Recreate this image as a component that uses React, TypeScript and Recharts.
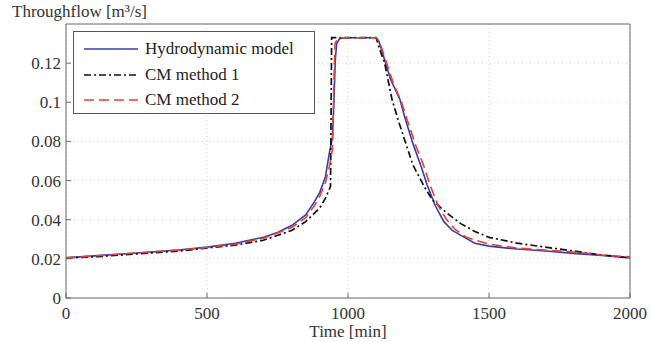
import { LineChart, Line, XAxis, YAxis, CartesianGrid } from 'recharts';

// Hydrodynamic model (blue, solid)
const hydroTime = [0, 100, 200, 300, 400, 500, 600, 700, 750, 800, 850, 880, 900, 920, 935, 945, 950, 955, 960, 970, 990, 1100, 1110, 1125, 1150, 1184, 1200, 1230, 1262, 1280, 1310, 1340, 1370, 1400, 1450, 1500, 1600, 1700, 1800, 1900, 2000];
const hydroFlow = [0.0205, 0.0215, 0.0225, 0.0235, 0.0245, 0.026, 0.028, 0.031, 0.0335, 0.037, 0.0425, 0.049, 0.054, 0.062, 0.075, 0.082, 0.1, 0.122, 0.13, 0.1325, 0.133, 0.133, 0.131, 0.124, 0.112, 0.1015, 0.093, 0.079, 0.066, 0.058, 0.047, 0.039, 0.0345, 0.032, 0.028, 0.0265, 0.025, 0.024, 0.0228, 0.0217, 0.0205];

// CM method 1 (black, dash-dot)
const cm1Time = [0, 100, 200, 300, 400, 500, 600, 700, 800, 850, 900, 920, 938, 942, 1100, 1110, 1130, 1156, 1180, 1230, 1270, 1300, 1350, 1400, 1450, 1500, 1600, 1700, 1800, 1900, 2000];
const cm1Flow = [0.0205, 0.021, 0.022, 0.023, 0.024, 0.0255, 0.027, 0.0295, 0.0345, 0.039, 0.046, 0.051, 0.057, 0.133, 0.133, 0.128, 0.12, 0.1015, 0.09, 0.068, 0.057, 0.05, 0.0435, 0.038, 0.034, 0.031, 0.028, 0.026, 0.024, 0.022, 0.0205];

// CM method 2 (red, dashed)
const cm2Time = [0, 100, 200, 300, 400, 500, 600, 700, 800, 850, 880, 900, 920, 935, 945, 950, 954, 965, 1100, 1112, 1130, 1160, 1190, 1210, 1240, 1270, 1290, 1320, 1350, 1380, 1420, 1500, 1600, 1700, 1800, 1900, 2000];
const cm2Flow = [0.0205, 0.0215, 0.0225, 0.0235, 0.0245, 0.0258, 0.0275, 0.0305, 0.036, 0.041, 0.047, 0.052, 0.059, 0.068, 0.076, 0.11, 0.13, 0.133, 0.133, 0.131, 0.123, 0.11, 0.1, 0.091, 0.078, 0.067, 0.058, 0.047, 0.04, 0.035, 0.031, 0.0275, 0.0255, 0.0245, 0.0235, 0.022, 0.021];

const timeTicks = [0, 500, 1000, 1500, 2000];
const flowTicks = [0, 0.02, 0.04, 0.06, 0.08, 0.1, 0.12];

const legendItems = [
  { name: 'Hydrodynamic model', color: '#3b3ba6', dash: undefined },
  { name: 'CM method 1', color: '#111111', dash: '7 3 2 3' },
  { name: 'CM method 2', color: '#e5403a', dash: '10 5' },
];

const toRows = (t: number[], v: number[]) => t.map((time, i) => ({ time, flow: v[i] }));

const font = '"Liberation Serif", "Times New Roman", serif';
const axisColor = '#6b6b6b';

// serif tick labels, drawn where recharts puts them
const serifTick = (dy: string) => (props: any) => (
  <text
    x={props.x}
    y={props.y}
    dy={dy}
    textAnchor={props.textAnchor}
    fontFamily={font}
    fontSize={17}
    fill="#333"
  >
    {String(props.payload.value)}
  </text>
);

function ChartLegend() {
  return (
    <div
      style={{
        position: 'absolute',
        left: 73,
        top: 31,
        width: 240,
        height: 81,
        border: '1px solid #555',
        background: '#fff',
        fontSize: 17,
        color: '#222',
      }}
    >
      {legendItems.map((item, i) => (
        <div
          key={item.name}
          style={{ position: 'absolute', left: 10, top: 5 + i * 25.5, height: 24, display: 'flex', alignItems: 'center' }}
        >
          <svg width={54} height={10} style={{ marginRight: 7 }}>
            <line x1={0} y1={5} x2={54} y2={5} stroke={item.color} strokeWidth={1.6} strokeDasharray={item.dash} />
          </svg>
          <span>{item.name}</span>
        </div>
      ))}
    </div>
  );
}

export default function App() {
  return (
    <div style={{ position: 'absolute', left: 0, top: 0, width: 651, height: 342, background: '#fff', fontFamily: font }}>
      <div style={{ position: 'absolute', left: 12, top: 2, fontSize: 17, color: '#333', lineHeight: '20px' }}>
        Throughflow [m³/s]
      </div>
      <LineChart width={651} height={342} margin={{ top: 23, right: 20, bottom: 43, left: 65 }}>
        <CartesianGrid stroke="#cfcfcf" strokeDasharray="1 3" />
        <XAxis
          dataKey="time"
          type="number"
          domain={[0, 2000]}
          ticks={timeTicks}
          height={1}
          stroke={axisColor}
          tickSize={-5}
          tickMargin={14}
          tick={serifTick('0.71em')}
          allowDuplicatedCategory={false}
        />
        <XAxis
          xAxisId="top"
          orientation="top"
          dataKey="time"
          type="number"
          domain={[0, 2000]}
          ticks={[500, 1000, 1500]}
          height={1}
          stroke={axisColor}
          tickSize={-5}
          tickFormatter={() => ''}
          allowDuplicatedCategory={false}
        />
        <YAxis
          type="number"
          domain={[0, 0.14]}
          ticks={flowTicks}
          width={1}
          stroke={axisColor}
          tickSize={-5}
          tickMargin={10}
          tick={serifTick('0.355em')}
        />
        <YAxis
          yAxisId="right"
          orientation="right"
          type="number"
          domain={[0, 0.14]}
          ticks={flowTicks}
          width={1}
          stroke={axisColor}
          tickSize={-5}
          tickFormatter={() => ''}
        />
        <Line
          data={toRows(hydroTime, hydroFlow)}
          dataKey="flow"
          name="Hydrodynamic model"
          type="linear"
          stroke="#3b3ba6"
          strokeWidth={1.6}
          dot={false}
          isAnimationActive={false}
        />
        <Line
          data={toRows(cm1Time, cm1Flow)}
          dataKey="flow"
          name="CM method 1"
          type="linear"
          stroke="#111111"
          strokeWidth={1.7}
          strokeDasharray="7 3 2 3"
          dot={false}
          isAnimationActive={false}
        />
        <Line
          data={toRows(cm2Time, cm2Flow)}
          dataKey="flow"
          name="CM method 2"
          type="linear"
          stroke="#e5403a"
          strokeWidth={1.6}
          strokeDasharray="10 5"
          dot={false}
          isAnimationActive={false}
        />
      </LineChart>
      <ChartLegend />
      <div
        style={{ position: 'absolute', left: 248, width: 200, top: 322, textAlign: 'center', fontSize: 17, color: '#333', lineHeight: '20px' }}
      >
        Time [min]
      </div>
    </div>
  );
}
